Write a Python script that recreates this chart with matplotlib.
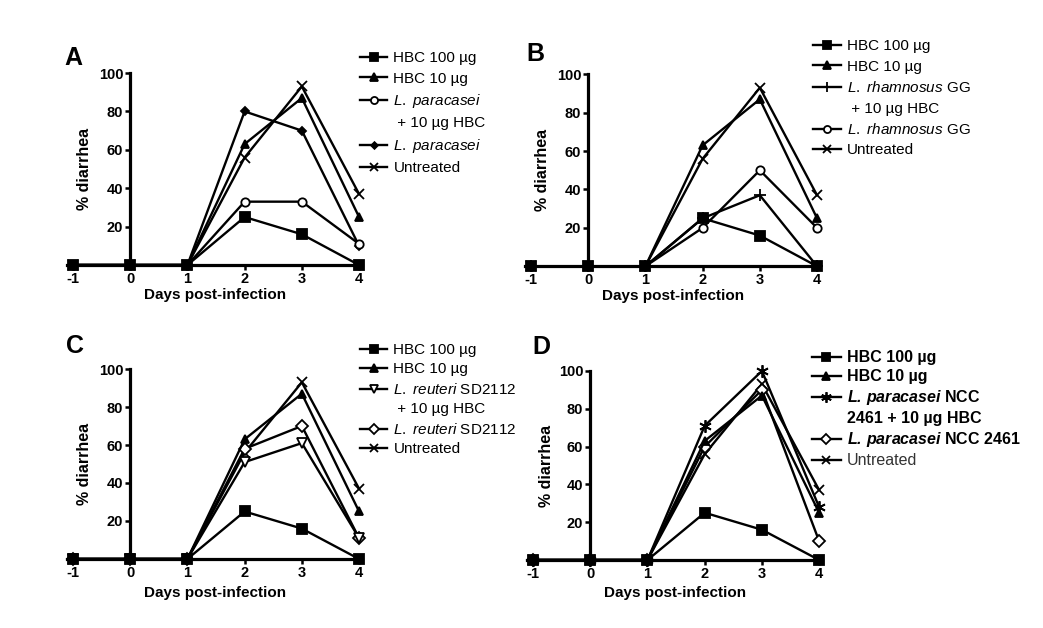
import matplotlib
matplotlib.use("Agg")
import matplotlib.pyplot as plt
from matplotlib.lines import Line2D

plt.rcParams['font.family'] = ['Liberation Sans', 'DejaVu Sans']
plt.rcParams['mathtext.fontset'] = 'custom'
plt.rcParams['mathtext.rm'] = 'Liberation Sans'
plt.rcParams['mathtext.it'] = 'Liberation Sans:italic'
plt.rcParams['mathtext.bf'] = 'Liberation Sans:bold'
plt.rcParams['mathtext.bfit'] = 'Liberation Sans:italic:bold'

days = [-1, 0, 1, 2, 3, 4]

# panel A
a_hbc100 = [0, 0, 0, 25, 16, 0]
a_hbc10 = [0, 0, 0, 63, 87, 25]
a_para_hbc = [0, 0, 0, 33, 33, 11]
a_para = [0, 0, 0, 80, 70, 10]
a_untreated = [0, 0, 0, 56, 93, 37]

# panel B
b_hbc100 = [0, 0, 0, 25, 16, 0]
b_hbc10 = [0, 0, 0, 63, 87, 25]
b_rham_hbc = [0, 0, 0, 25, 37, 0]
b_rham = [0, 0, 0, 20, 50, 20]
b_untreated = [0, 0, 0, 56, 93, 37]

# panel C
c_hbc100 = [0, 0, 0, 25, 16, 0]
c_hbc10 = [0, 0, 0, 63, 87, 25]
c_reut_hbc = [0, 0, 0, 51, 61, 11]
c_reut = [0, 0, 0, 58, 70, 11]
c_untreated = [0, 0, 0, 56, 93, 37]

# panel D
d_hbc100 = [0, 0, 0, 25, 16, 0]
d_hbc10 = [0, 0, 0, 63, 87, 25]
d_ncc_hbc = [0, 0, 0, 71, 100, 28]
d_ncc = [0, 0, 0, 60, 90, 10]
d_untreated = [0, 0, 0, 56, 93, 37]

lbl_hbc100 = "HBC 100 µg"
lbl_hbc10 = "HBC 10 µg"

W = "white"
K = "black"
# (marker, size, facecolor)
m_sq = ("s", 6.5, K)
m_tri = ("^", 6, K)
m_circ = ("o", 6, W)
m_dia_f = ("D", 4, K)
m_x = ("x", 7, K)
m_plus = ("+", 9, K)
m_vopen = ("v", 7, W)
m_dopen = ("D", 6, W)
m_ast = ((6, 2, 0), 9, K)

panels = [
    ("A", [0.0645, 0.578, 0.2825, 0.3057], [0.084, 0.5], -0.12,
     [(a_hbc100, m_sq, lbl_hbc100), (a_hbc10, m_tri, lbl_hbc10),
      (a_para_hbc, m_circ, r"$\mathit{L.\ paracasei}$"), (None, None, " + 10 µg HBC"),
      (a_para, m_dia_f, r"$\mathit{L.\ paracasei}$"), (a_untreated, m_x, "Untreated")],
     (0.345, 0.9185), (64 / 1043, 1 - 58 / 628), 11, "normal", 0.42),
    ("B", [0.5036, 0.576, 0.2825, 0.3057], [0.084, 0.5], -0.12,
     [(b_hbc100, m_sq, lbl_hbc100), (b_hbc10, m_tri, lbl_hbc10),
      (b_rham_hbc, m_plus, r"$\mathit{L.\ rhamnosus}$ GG"), (None, None, " + 10 µg HBC"),
      (b_rham, m_circ, r"$\mathit{L.\ rhamnosus}$ GG"), (b_untreated, m_x, "Untreated")],
     (0.7795, 0.9375), (526 / 1043, 1 - 54 / 628), 11, "normal", 0.42),
    ("C", [0.0645, 0.1099, 0.2825, 0.3025], [0.084, 0.5], -0.14,
     [(c_hbc100, m_sq, lbl_hbc100), (c_hbc10, m_tri, lbl_hbc10),
      (c_reut_hbc, m_vopen, r"$\mathit{L.\ reuteri}$ SD2112"), (None, None, " + 10 µg HBC"),
      (c_reut, m_dopen, r"$\mathit{L.\ reuteri}$ SD2112"), (c_untreated, m_x, "Untreated")],
     (0.345, 0.4540), (66 / 1043, 1 - 346 / 628), 11, "normal", 0.36),
    ("D", [0.5056, 0.1083, 0.2825, 0.301], [0.09, 0.5], -0.14,
     [(d_hbc100, m_sq, lbl_hbc100), (d_hbc10, m_tri, lbl_hbc10),
      (d_ncc_hbc, m_ast, r"$\mathbfit{L.\,paracasei}$ NCC"), (None, None, "2461 + 10 µg HBC"),
      (d_ncc, m_dopen, r"$\mathbfit{L.\,paracasei}$ NCC 2461"), (d_untreated, m_x, "Untreated")],
     (0.7785, 0.4420), (532 / 1043, 1 - 347 / 628), 11.5, "bold", 0.25),
]

fig = plt.figure(figsize=(10.43, 6.28), dpi=100)

for letter, rect, ylab_pos, xlab_y, series, leg_pos, let_pos, leg_fs, leg_w, leg_sp in panels:
    ax = fig.add_axes(rect)
    handles = []
    for i, (vals, mk, lab) in enumerate(series):
        if vals is None:
            handles.append(Line2D([], [], color="none", label=lab))
            continue
        marker, ms, fc = mk
        ln, = ax.plot(days, vals, color=K, lw=1.7, marker=marker, markersize=ms,
                      markerfacecolor=fc, markeredgecolor=K, markeredgewidth=1.3,
                      clip_on=False, zorder=10 - i, label=lab)
        handles.append(ln)

    ax.set_xlim(-1.1, 4.05)
    ax.set_ylim(0, 100)
    ax.spines['left'].set_position(('data', 0))
    ax.spines['right'].set_visible(False)
    ax.spines['top'].set_visible(False)
    for s in ('left', 'bottom'):
        ax.spines[s].set_linewidth(2.3)
    ax.set_xticks(days)
    ax.set_xticklabels([str(d) for d in days])
    ax.set_yticks([20, 40, 60, 80, 100])
    ax.tick_params(direction='out', length=3.5, width=1.8, labelsize=10.5, pad=1.5)
    for t in ax.get_xticklabels() + ax.get_yticklabels():
        t.set_fontweight('bold')
    ax.set_ylabel("% diarrhea", fontsize=11.5, fontweight='bold')
    ax.yaxis.set_label_coords(*ylab_pos)
    ax.set_xlabel("Days post-infection", fontsize=11, fontweight='bold')
    ax.xaxis.set_label_coords(0.5, xlab_y)

    leg = ax.legend(handles=handles, loc='upper left', bbox_to_anchor=leg_pos,
                    bbox_transform=fig.transFigure, frameon=False, borderpad=0,
                    borderaxespad=0, handlelength=1.8, handletextpad=0.4,
                    labelspacing=leg_sp, markerscale=0.85,
                    prop={'size': leg_fs, 'weight': leg_w})
    if leg_w == "bold":
        leg.get_texts()[-1].set_fontweight('normal')
        leg.get_texts()[-1].set_color('#333333')

    fig.text(let_pos[0], let_pos[1], letter, fontsize=18, fontweight='bold',
             ha='left', va='center')

fig.savefig("out.png", dpi=100)
